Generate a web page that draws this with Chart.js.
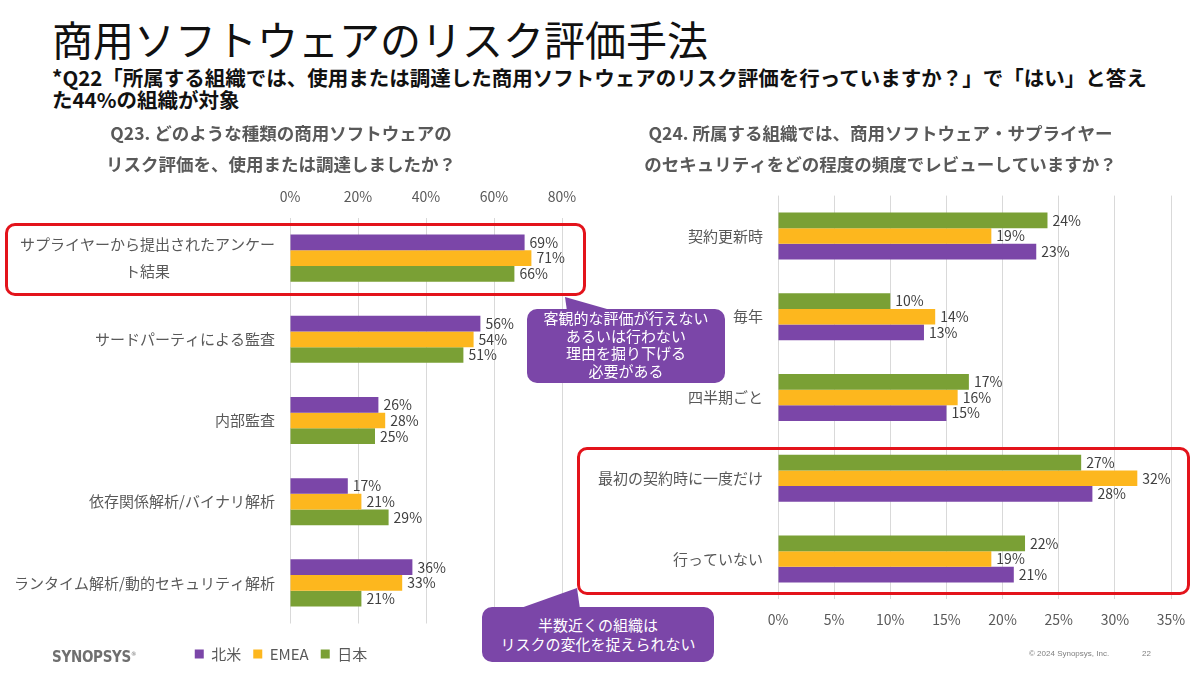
<!DOCTYPE html>
<html lang="ja">
<head>
<meta charset="utf-8">
<script src="https://cdn.jsdelivr.net/npm/chart.js@4.4.1/dist/chart.umd.min.js"></script>
<style>
html,body{margin:0;padding:0;background:#fff;}
body{width:1200px;height:675px;position:relative;overflow:hidden;font-family:"Noto Sans CJK JP","Noto Sans",sans-serif;}
#title{position:absolute;left:52px;top:12px;font-size:41px;line-height:52px;color:#111;white-space:nowrap;}
#subtitle{position:absolute;left:52px;top:66px;font-size:20.5px;line-height:22px;font-weight:bold;color:#111;white-space:nowrap;}
canvas{position:absolute;}
#leftChart{left:0;top:110px;}
#rightChart{left:590px;top:110px;}
.redbox{position:absolute;border:3px solid #E3131B;border-radius:10px;box-sizing:border-box;}
.callout{position:absolute;background:#7B46A8;color:#fff;border-radius:10px;text-align:center;font-size:15px;box-sizing:border-box;white-space:nowrap;}
#ptrs{position:absolute;left:0;top:0;pointer-events:none;}
#logo{position:absolute;left:52px;top:644px;font-family:"Liberation Sans Narrow","DejaVu Sans Condensed","Liberation Sans",sans-serif;font-weight:bold;font-size:15px;line-height:20px;color:#6F6F6F;letter-spacing:-0.3px;}
#logo sup{font-size:6px;font-weight:normal;}
#copy{position:absolute;left:1029px;top:649px;font-family:"Liberation Sans",sans-serif;font-size:8px;line-height:10px;color:#7F7F7F;}
#page{position:absolute;left:1142px;top:649px;font-family:"Liberation Sans",sans-serif;font-size:8px;line-height:10px;color:#7F7F7F;}
</style>
</head>
<body>
<div id="title">商用ソフトウェアのリスク評価手法</div>
<div id="subtitle">*Q22「所属する組織では、使用または調達した商用ソフトウェアのリスク評価を行っていますか？」で「はい」と答え<br>た44%の組織が対象</div>

<canvas id="leftChart" width="590" height="565"></canvas>
<canvas id="rightChart" width="610" height="530"></canvas>

<div class="redbox" style="left:5px;top:223px;width:581px;height:73px;"></div>
<div class="redbox" style="left:577px;top:447px;width:613px;height:148px;"></div>

<svg id="ptrs" width="1200" height="675">
  <polygon points="565,297 567,311 614,311" fill="#7B46A8"/>
  <polygon points="577,588 518,609 580,609" fill="#7B46A8"/>
</svg>
<div class="callout" style="left:527px;top:309px;width:198px;height:74px;padding-top:0px;line-height:17.7px;">客観的な評価が行えない<br>あるいは行わない<br>理由を掘り下げる<br>必要がある</div>
<div class="callout" style="left:482px;top:607px;width:232px;height:55px;padding-top:8px;line-height:19px;">半数近くの組織は<br>リスクの変化を捉えられない</div>

<div id="logo">SYNOPSYS<sup>®</sup></div>
<div id="copy">© 2024 Synopsys, Inc.</div>
<div id="page">22</div>

<script>
// ---------- data ----------
const seriesNames = ['北米', 'EMEA', '日本'];
const seriesColors = ['#7B46A8', '#FDB71E', '#7AA035'];

const q23Title = ['Q23. どのような種類の商用ソフトウェアの', 'リスク評価を、使用または調達しましたか？'];
const q23Categories = ['サプライヤーから提出されたアンケート結果', 'サードパーティによる監査', '内部監査', '依存関係解析/バイナリ解析', 'ランタイム解析/動的セキュリティ解析'];
const q23TickLabels = [['サプライヤーから提出されたアンケー', 'ト結果'], 'サードパーティによる監査', '内部監査', '依存関係解析/バイナリ解析', 'ランタイム解析/動的セキュリティ解析'];
const q23NorthAmerica = [69, 56, 26, 17, 36];
const q23EMEA = [71, 54, 28, 21, 33];
const q23Japan = [66, 51, 25, 29, 21];

const q24Title = ['Q24. 所属する組織では、商用ソフトウェア・サプライヤー', 'のセキュリティをどの程度の頻度でレビューしていますか？'];
const q24Categories = ['契約更新時', '毎年', '四半期ごと', '最初の契約時に一度だけ', '行っていない'];
const q24NorthAmerica = [23, 13, 15, 28, 21];
const q24EMEA = [19, 14, 16, 32, 19];
const q24Japan = [24, 10, 17, 27, 22];

// ---------- helpers ----------
Chart.defaults.font.family = '"Noto Sans CJK JP", "Noto Sans", sans-serif';

const labelFontSize = 15;
const measureCtx = document.createElement('canvas').getContext('2d');
measureCtx.font = labelFontSize + 'px "Noto Sans CJK JP"';
function centerLines(label) {
  if (!Array.isArray(label)) return label;
  const widths = label.map(l => measureCtx.measureText(l).width);
  const maxW = Math.max(...widths);
  const sp = measureCtx.measureText('\u3000').width;
  return label.map((l, i) => l + '\u3000'.repeat(Math.round((maxW - widths[i]) / 2 / sp)));
}

const valueLabelPlugin = {
  id: 'valueLabels',
  afterDatasetsDraw(chart) {
    const ctx = chart.ctx;
    ctx.save();
    ctx.font = '14px "Noto Sans CJK JP"';
    ctx.fillStyle = '#404040';
    ctx.textAlign = 'left';
    ctx.textBaseline = 'middle';
    chart.data.datasets.forEach((ds, i) => {
      chart.getDatasetMeta(i).data.forEach((bar, j) => {
        ctx.fillText(ds.data[j] + '%', bar.x + 5, bar.y);
      });
    });
    ctx.restore();
  }
};

const gridColor = '#D9D9D9';
const textColor = '#595959';
const titleFont = {size: 17.5, weight: 'bold', lineHeight: 1.75};

// ---------- left chart (Q23) ----------
new Chart(document.getElementById('leftChart'), {
  type: 'bar',
  data: {
    labels: q23Categories,
    datasets: [
      {label: seriesNames[0], data: q23NorthAmerica, backgroundColor: seriesColors[0]},
      {label: seriesNames[1], data: q23EMEA, backgroundColor: seriesColors[1]},
      {label: seriesNames[2], data: q23Japan, backgroundColor: seriesColors[2]}
    ]
  },
  options: {
    indexAxis: 'y',
    responsive: false,
    animation: false,
    layout: {padding: {left: 0, right: 28, top: 0, bottom: 3.5}},
    datasets: {bar: {categoryPercentage: 0.58, barPercentage: 1}},
    scales: {
      x: {
        position: 'top', min: 0, max: 80,
        ticks: {stepSize: 20, callback: v => v + '%', padding: 12, color: textColor, font: {size: 14}},
        grid: {color: gridColor, drawTicks: false},
        border: {display: false},
        afterFit: s => { s.height = 38.25; }
      },
      y: {
        ticks: {padding: 15, color: textColor, font: {size: labelFontSize, lineHeight: 1.8},
                callback: (v, i) => centerLines(q23TickLabels[i])},
        grid: {display: false, drawTicks: false},
        border: {display: false},
        afterFit: s => { s.width = 290; }
      }
    },
    plugins: {
      title: {display: true, text: q23Title, color: textColor, font: titleFont, padding: {top: 8, bottom: 0}},
      legend: {
        position: 'bottom',
        labels: {boxWidth: 9, boxHeight: 9, padding: 12, color: textColor, font: {size: 15}},
        title: {display: true, text: '', padding: {top: 10, bottom: 0}, font: {size: 1, lineHeight: 1}}
      },
      tooltip: {enabled: false}
    }
  },
  plugins: [valueLabelPlugin]
});

// ---------- right chart (Q24) ----------
new Chart(document.getElementById('rightChart'), {
  type: 'bar',
  data: {
    labels: q24Categories,
    datasets: [
      {label: seriesNames[2], data: q24Japan, backgroundColor: seriesColors[2]},
      {label: seriesNames[1], data: q24EMEA, backgroundColor: seriesColors[1]},
      {label: seriesNames[0], data: q24NorthAmerica, backgroundColor: seriesColors[0]}
    ]
  },
  options: {
    indexAxis: 'y',
    responsive: false,
    animation: false,
    layout: {padding: {left: 0, right: 29, top: 0, bottom: 11.8}},
    datasets: {bar: {categoryPercentage: 0.58, barPercentage: 1}},
    scales: {
      x: {
        position: 'bottom', min: 0, max: 35,
        ticks: {stepSize: 5, callback: v => v + '%', padding: 12, color: textColor, font: {size: 14}},
        grid: {color: gridColor, drawTicks: false},
        border: {display: false},
        afterFit: s => { s.height = 28.8; }
      },
      y: {
        ticks: {padding: 15, color: textColor, font: {size: labelFontSize}},
        grid: {display: false, drawTicks: false},
        border: {display: false},
        afterFit: s => { s.width = 188; }
      }
    },
    plugins: {
      title: {display: true, text: q24Title, color: textColor, font: titleFont, padding: {top: 8, bottom: 16.35}},
      legend: {display: false},
      tooltip: {enabled: false}
    }
  },
  plugins: [valueLabelPlugin]
});
</script>
</body>
</html>
